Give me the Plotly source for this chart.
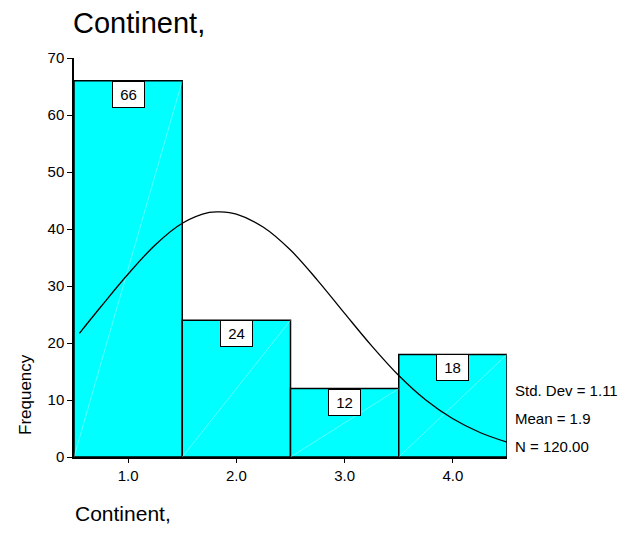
import plotly.graph_objects as go

# Histogram of continent codes
categories = [1, 2, 3, 4]
tick_labels = ["1.0", "2.0", "3.0", "4.0"]
counts = [66, 24, 12, 18]

# Normal curve
curve_x = [0.55, 0.75, 1.0, 1.25, 1.5, 1.75, 1.85, 2.0, 2.25, 2.5, 2.75,
           3.0, 3.25, 3.5, 3.75, 4.0, 4.25, 4.5]
curve_y = [21.7, 26.4, 32.1, 37.2, 41.0, 42.9, 43.0, 42.6, 40.3, 36.3, 31.0,
           25.2, 19.5, 14.3, 10.0, 6.7, 4.3, 2.6]

stats = ["Std. Dev = 1.11", "Mean = 1.9", "N = 120.00"]

font_family = "Liberation Sans, Arial, Helvetica, sans-serif"

W, H = 631, 541
L, R, T, B = 74, 124, 58, 84
pw, ph = W - L - R, H - T - B

fig = go.Figure()

fig.add_trace(go.Bar(
    x=categories, y=counts, width=1,
    marker=dict(color="#00ffff", line=dict(color="black", width=1.5)),
    hoverinfo="x+y",
))

# faint diagonal streak in each bar (corner to corner)
dx, dy = [], []
for c, n in zip(categories, counts):
    dx += [c - 0.5, c + 0.5, None]
    dy += [0, n, None]
fig.add_trace(go.Scatter(
    x=dx, y=dy, mode="lines",
    line=dict(color="rgba(255,255,255,0.35)", width=1),
    hoverinfo="skip",
))

fig.add_trace(go.Scatter(
    x=curve_x, y=curve_y, mode="lines",
    line=dict(color="black", width=1.3, shape="spline"),
    hoverinfo="skip",
))

# count boxes at the top of each bar
for c, n in zip(categories, counts):
    fig.add_annotation(
        x=c, y=n, xref="x", yref="y",
        text=str(n), showarrow=False,
        yanchor="top", xanchor="center",
        width=31, height=25,
        bgcolor="white", bordercolor="black", borderwidth=1, borderpad=0,
        font=dict(size=15, color="black", family=font_family),
    )

# stats block on the right
for i, s in enumerate(stats):
    fig.add_annotation(
        x=(513 - L) / pw, y=(457 - (390 + 28 * i)) / ph,
        xref="paper", yref="paper",
        text=s, showarrow=False, xanchor="left", yanchor="middle",
        font=dict(size=15, color="black", family=font_family),
    )

fig.add_annotation(
    x=(25 - L) / pw, y=(457 - 395) / ph, xref="paper", yref="paper",
    text="Frequency", textangle=-90, showarrow=False,
    xanchor="center", yanchor="middle",
    font=dict(size=17, color="black", family=font_family),
)

fig.add_annotation(
    x=(73 - L) / pw, y=(457 - 513) / ph, xref="paper", yref="paper",
    text="Continent,", showarrow=False, xanchor="left", yanchor="middle",
    font=dict(size=21, color="black", family=font_family),
)

fig.update_layout(
    width=W, height=H,
    margin=dict(l=L, r=R, t=T, b=B),
    paper_bgcolor="white", plot_bgcolor="white",
    showlegend=False,
    font=dict(family=font_family, color="black"),
    title=dict(
        text="Continent,", x=73 / W, xanchor="left",
        y=1 - 23 / H, yanchor="middle",
        font=dict(size=29, color="black", family=font_family),
    ),
)

fig.update_xaxes(
    range=[0.5, 4.5], tickvals=categories, ticktext=tick_labels,
    showgrid=False, zeroline=False,
    showline=True, linecolor="black", linewidth=1.5,
    ticks="outside", ticklen=4, tickcolor="black", tickwidth=1,
    tickfont=dict(size=15),
)
fig.update_yaxes(
    range=[0, 70], tickvals=list(range(0, 71, 10)),
    showgrid=False, zeroline=False,
    showline=True, linecolor="black", linewidth=1.5,
    ticks="outside", ticklen=5, tickcolor="black", tickwidth=1,
    tickfont=dict(size=15),
)

fig.write_html("out.html", config={"displayModeBar": False},
               post_script="document.body.style.margin='0';")
